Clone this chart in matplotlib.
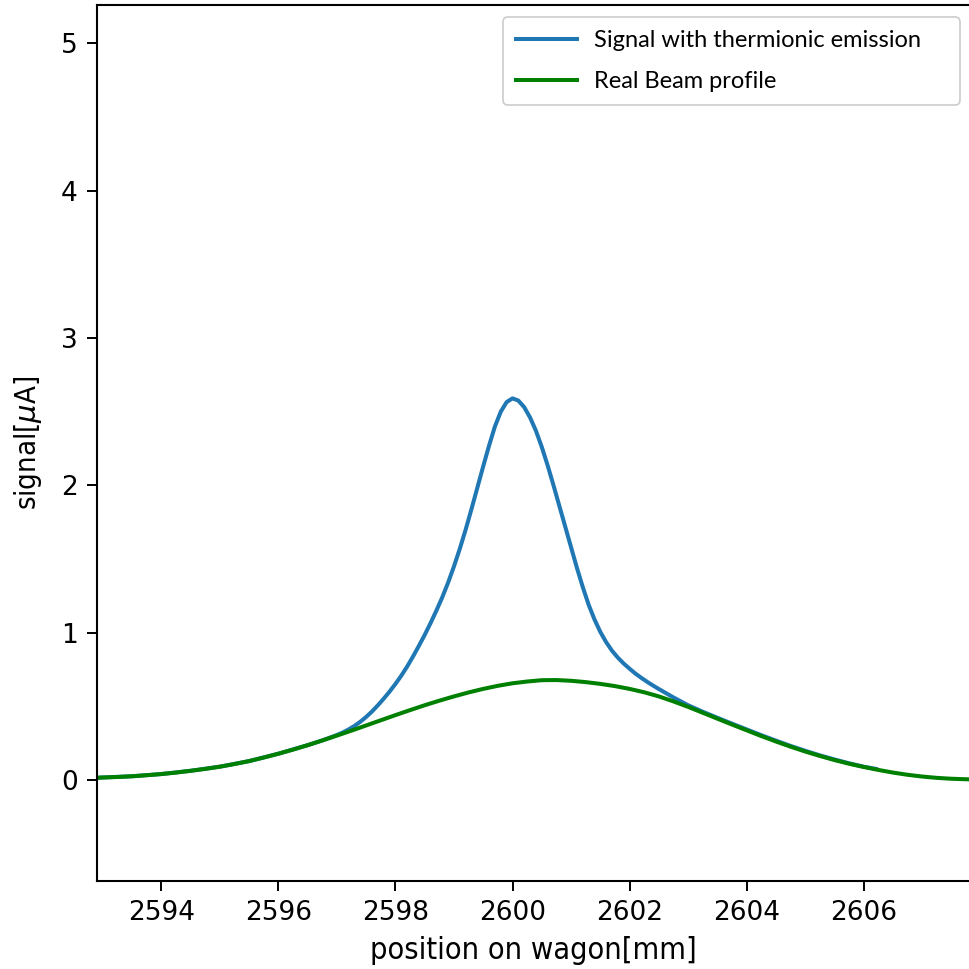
import matplotlib
matplotlib.use("Agg")
import matplotlib.pyplot as plt

# Real beam profile (green)
beam_x = [2592.9, 2593.25, 2593.5, 2593.75, 2594.0, 2594.25, 2594.5, 2594.75, 2595.0,
          2595.25, 2595.5, 2595.75, 2596.0, 2596.25, 2596.5, 2596.75, 2597.0, 2597.25,
          2597.5, 2597.75, 2598.0, 2598.25, 2598.5, 2598.75, 2599.0, 2599.25, 2599.5,
          2599.75, 2600.0, 2600.25, 2600.5, 2600.75, 2601.0, 2601.25, 2601.5, 2601.75,
          2602.0, 2602.25, 2602.5, 2602.75, 2603.0, 2603.25, 2603.5, 2603.75, 2604.0,
          2604.25, 2604.5, 2604.75, 2605.0, 2605.25, 2605.5, 2605.75, 2606.0, 2606.25,
          2606.5, 2606.75, 2607.0, 2607.25, 2607.5, 2607.8]
beam_y = [0.015, 0.02, 0.025, 0.032, 0.04, 0.05, 0.062, 0.075, 0.09,
          0.108, 0.128, 0.152, 0.178, 0.206, 0.236, 0.268, 0.301, 0.335,
          0.37, 0.405, 0.44, 0.474, 0.507, 0.538, 0.567, 0.594, 0.618,
          0.639, 0.656, 0.668, 0.677, 0.678, 0.673, 0.664, 0.652, 0.637,
          0.618, 0.595, 0.567, 0.533, 0.496, 0.456, 0.416, 0.376, 0.337,
          0.298, 0.261, 0.226, 0.193, 0.163, 0.135, 0.11, 0.088, 0.068,
          0.05, 0.035, 0.023, 0.014, 0.008, 0.004]

# Signal with thermionic emission (blue)
sig_x = [2592.9, 2593.5, 2594.0, 2594.5, 2595.0, 2595.5, 2596.0, 2596.5, 2596.75,
         2597.0, 2597.1, 2597.2, 2597.3, 2597.4, 2597.5, 2597.6, 2597.7, 2597.8, 2597.9,
         2598.0, 2598.1, 2598.2, 2598.3, 2598.4, 2598.5, 2598.6, 2598.7, 2598.8, 2598.9,
         2599.0, 2599.1, 2599.2, 2599.3, 2599.4, 2599.5, 2599.6, 2599.7, 2599.8, 2599.9,
         2600.0, 2600.1, 2600.2, 2600.3, 2600.4, 2600.5, 2600.6, 2600.7, 2600.8, 2600.9,
         2601.0, 2601.1, 2601.2, 2601.3, 2601.4, 2601.5, 2601.6, 2601.7, 2601.8, 2601.9,
         2602.0, 2602.1, 2602.2, 2602.3, 2602.4, 2602.5, 2602.75, 2603.0, 2603.25, 2603.5,
         2603.75, 2604.0, 2604.25, 2604.5, 2604.75, 2605.0, 2605.25, 2605.5, 2605.75,
         2606.0, 2606.21]
sig_y = [0.015, 0.025, 0.04, 0.062, 0.09, 0.128, 0.178, 0.236, 0.268,
         0.305, 0.322, 0.343, 0.367, 0.395, 0.428, 0.465, 0.507, 0.552, 0.60,
         0.652, 0.708, 0.77, 0.838, 0.91, 0.985, 1.065, 1.15, 1.24, 1.34,
         1.45, 1.57, 1.70, 1.84, 1.985, 2.13, 2.27, 2.40, 2.50, 2.565,
         2.59, 2.575, 2.53, 2.46, 2.37, 2.26, 2.135, 2.0, 1.86, 1.72,
         1.58, 1.44, 1.31, 1.19, 1.09, 1.005, 0.935, 0.877, 0.83, 0.79,
         0.755, 0.722, 0.693, 0.666, 0.641, 0.617, 0.56, 0.507, 0.463, 0.422,
         0.382, 0.343, 0.304, 0.267, 0.231, 0.198, 0.167, 0.139, 0.113,
         0.09, 0.075]

xticks = [2594, 2596, 2598, 2600, 2602, 2604, 2606]
yticks = [0, 1, 2, 3, 4, 5]

fig = plt.figure(figsize=(9.69, 9.69), dpi=100)
ax = fig.add_axes([97 / 969, 1 - 881 / 969, 1 - 97 / 969, (881 - 5) / 969])

ax.plot(sig_x, sig_y, color="#1f77b4", lw=2.9, label="Signal with thermionic emission")
ax.plot(beam_x, beam_y, color="green", lw=2.9, label="Real Beam profile")

ax.set_xlim(2592.9, 2607.8)
ax.set_ylim(-0.686, 5.26)
ax.set_xticks(xticks)
ax.set_yticks(yticks)
ax.tick_params(labelsize=19, length=7, width=1.4, pad=7)
for s in ax.spines.values():
    s.set_linewidth(1.5)
ax.spines["right"].set_visible(False)

ax.set_xlabel("position on wagon[mm]", fontsize=22, fontstretch="condensed", labelpad=7)
ax.set_ylabel(r"signal[$\mu$A]", fontsize=21, fontstretch="condensed", labelpad=12)

leg = ax.legend(loc="upper left", bbox_to_anchor=(503 / 969, 1 - 110 / 969, 457 / 969, 93 / 969),
                bbox_transform=fig.transFigure, mode="expand", borderaxespad=0,
                prop={"family": "Lato", "size": 17},
                handlelength=2.6, handletextpad=0.7, borderpad=0.55,
                labelspacing=0.85, framealpha=1.0)
leg.get_frame().set_edgecolor("#cccccc")
leg.get_frame().set_linewidth(1.2)

fig.savefig("out.png", dpi=100)
